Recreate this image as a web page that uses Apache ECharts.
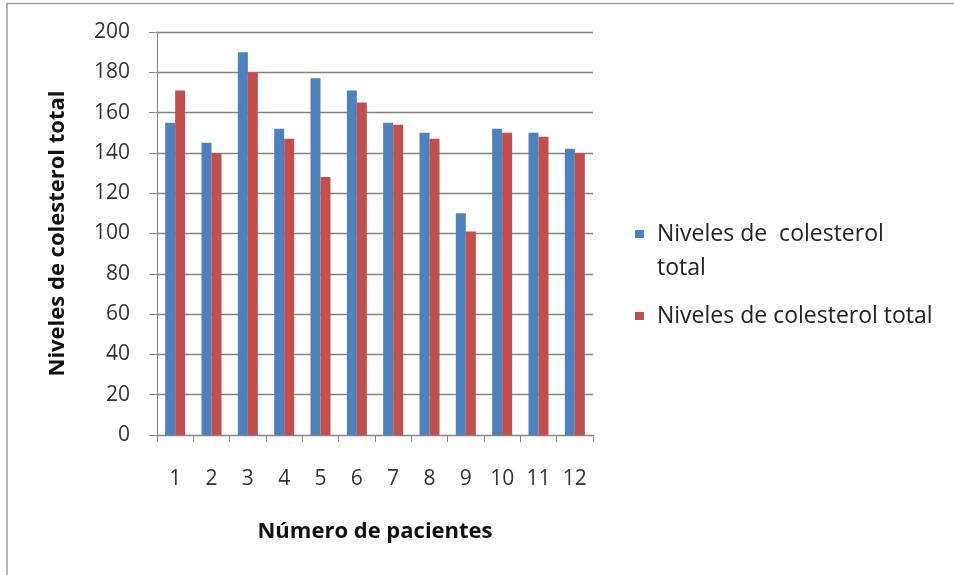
<!DOCTYPE html>
<html>
<head>
<meta charset="utf-8">
<script src="https://cdn.jsdelivr.net/npm/echarts@6/dist/echarts.min.js"></script>
<style>
html,body{margin:0;padding:0;background:#fff;}
#chart{width:954px;height:575px;}
</style>
</head>
<body>
<div id="chart"></div>
<script>
const categories = ['1','2','3','4','5','6','7','8','9','10','11','12'];
const seriesNames = ['Niveles de  colesterol total', 'Niveles de colesterol total'];
const blueValues = [155, 145, 190, 152, 177, 171, 155, 150, 110, 152, 150, 142];
const redValues = [171, 140, 180, 147, 128, 165, 154, 147, 101, 150, 148, 140];
const yTicks = { min: 0, max: 200, interval: 20 };
const xTitle = 'Número de pacientes';
const yTitle = 'Niveles de colesterol total';

const FONT = '"Open Sans", "DejaVu Sans", sans-serif';
const chart = echarts.init(document.getElementById('chart'), null, { renderer: 'canvas' });

// icons: square at top (aligned to first text line) / centered square
const iconTop = 'path://M0,0 H9 V8 H0 Z M17,42 h0.01';
const iconMid = 'path://M0,17 H9 V25 H0 Z M0,0 h0.01 M17,42 h0.01';

chart.setOption({
  backgroundColor: '#ffffff',
  animation: false,
  grid: { left: 157, right: 361, top: 32, bottom: 140, containLabel: false },
  legend: {
    orient: 'vertical',
    left: 630,
    top: 212,
    padding: 5,
    itemWidth: 17,
    itemHeight: 42,
    itemGap: 10,
    data: [
      { name: seriesNames[0], icon: iconTop },
      { name: seriesNames[1], icon: iconMid }
    ],
    formatter: function (name) {
      return name === seriesNames[0] ? 'Niveles de  colesterol\ntotal' : name;
    },
    textStyle: { fontFamily: FONT, fontSize: 23, color: '#222', lineHeight: 34 }
  },
  xAxis: {
    type: 'category',
    data: categories,
    name: xTitle,
    nameLocation: 'middle',
    nameGap: 86,
    nameTextStyle: { fontFamily: FONT, fontSize: 22, fontWeight: 'bold', color: '#111' },
    axisLine: { show: true, lineStyle: { color: '#868686', width: 1 } },
    axisTick: { show: true, length: 7, alignWithLabel: false, lineStyle: { color: '#868686' } },
    axisLabel: { margin: 34, fontFamily: FONT, fontSize: 21, color: '#333' },
    splitLine: { show: false }
  },
  yAxis: {
    type: 'value',
    min: yTicks.min,
    max: yTicks.max,
    interval: yTicks.interval,
    name: yTitle,
    nameLocation: 'middle',
    nameGap: 88,
    nameRotate: 90,
    nameTextStyle: { fontFamily: FONT, fontSize: 22, fontWeight: 'bold', color: '#111' },
    axisLine: { show: true, lineStyle: { color: '#868686', width: 1 } },
    axisTick: { show: true, length: 8, inside: false, lineStyle: { color: '#868686' } },
    axisLabel: { margin: 27, fontFamily: FONT, fontSize: 21, color: '#333' },
    splitLine: { show: true, lineStyle: { color: '#828282', width: 1.4 } }
  },
  series: [
    {
      name: seriesNames[0],
      type: 'bar',
      data: blueValues,
      barWidth: 10,
      barGap: '0%',
      itemStyle: { color: '#4F81BD' }
    },
    {
      name: seriesNames[1],
      type: 'bar',
      data: redValues,
      barWidth: 10,
      barGap: '0%',
      itemStyle: { color: '#C0504D' }
    }
  ],
  graphic: [
    { type: 'line', silent: true, shape: { x1: 6, y1: 3.5, x2: 954, y2: 3.5 }, style: { stroke: '#9a9a9a', lineWidth: 1.5 } },
    { type: 'line', silent: true, shape: { x1: 7, y1: 3, x2: 7, y2: 575 }, style: { stroke: '#9a9a9a', lineWidth: 1.5 } }
  ]
});
</script>
</body>
</html>
